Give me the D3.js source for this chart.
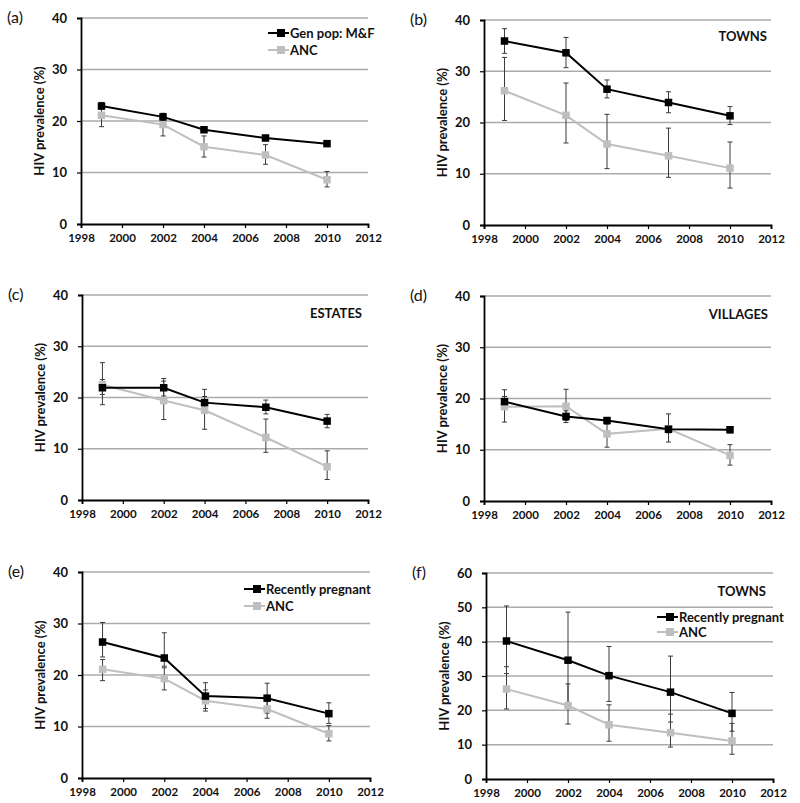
<!DOCTYPE html>
<html><head><meta charset="utf-8">
<script src="https://cdn.jsdelivr.net/npm/d3@7"></script>
<style>
body{margin:0;background:#fff;}
svg{display:block;}
text{font-family:Lato,"Open Sans",sans-serif;font-weight:bold;fill:#111;}
</style></head>
<body><svg id="chart" width="800" height="803"></svg>
<script>
// ---------- DATA ----------
const years = [1999, 2002, 2004, 2007, 2010];
const xTicks = [1998, 2000, 2002, 2004, 2006, 2008, 2010, 2012];
const yTicks40 = [0, 10, 20, 30, 40];
const yTicks60 = [0, 10, 20, 30, 40, 50, 60];

// (a) whole population
const genPop = [22.9, 20.8, 18.3, 16.7, 15.6];
const genPopLo = [22.3, 20.1, 17.9, 16.2, 15.2];
const genPopHi = [23.6, 21.5, 18.8, 17.2, 16.0];
const ancAll = [21.1, 19.3, 15.0, 13.4, 8.6];
const ancAllLo = [18.9, 17.1, 13.0, 11.6, 7.2];
const ancAllHi = [23.0, 21.4, 17.1, 15.4, 10.2];

// (b) towns
const townsPop = [35.9, 33.6, 26.5, 23.9, 21.3];
const townsPopLo = [33.5, 30.7, 24.8, 21.9, 19.6];
const townsPopHi = [38.3, 36.6, 28.3, 26.0, 23.1];
const ancTowns = [26.2, 21.4, 15.8, 13.5, 11.1];
const ancTownsLo = [20.4, 16.0, 11.0, 9.3, 7.2];
const ancTownsHi = [32.7, 27.7, 21.6, 18.9, 16.2];

// (c) estates
const estatesPop = [21.9, 21.9, 19.0, 18.1, 15.4];
const estatesPopLo = [20.6, 20.3, 18.0, 16.8, 14.1];
const estatesPopHi = [23.5, 23.7, 20.2, 19.5, 16.7];
const ancEstates = [22.5, 19.4, 17.5, 12.2, 6.5];
const ancEstatesLo = [18.6, 15.7, 13.8, 9.3, 4.0];
const ancEstatesHi = [26.8, 23.2, 21.6, 15.8, 9.6];

// (d) villages
const villagesPop = [19.4, 16.5, 15.7, 14.0, 13.9];
const villagesPopLo = [18.7, 15.3, 15.0, 13.3, 13.3];
const villagesPopHi = [20.4, 17.6, 16.3, 14.7, 14.4];
const ancVillages = [18.4, 18.5, 13.1, 14.1, 8.9];
const ancVillagesLo = [15.4, 15.7, 10.5, 11.5, 7.0];
const ancVillagesHi = [21.7, 21.8, 15.4, 17.0, 11.0];

// (e) recently pregnant, whole population
const pregAll = [26.4, 23.3, 15.9, 15.5, 12.5];
const pregAllLo = [23.5, 21.7, 13.5, 12.6, 10.6];
const pregAllHi = [30.2, 28.2, 18.5, 18.4, 14.6];

// (f) recently pregnant, towns
const pregTowns = [40.2, 34.6, 30.1, 25.3, 19.1];
const pregTownsLo = [30.7, 21.0, 22.6, 16.6, 13.9];
const pregTownsHi = [50.4, 48.6, 38.6, 35.8, 25.2];

const panelLabels = ["(a)", "(b)", "(c)", "(d)", "(e)", "(f)"];
const areaNames = [null, "TOWNS", "ESTATES", "VILLAGES", null, "TOWNS"];
const legendAll = ["Gen pop: M&F", "ANC"];
const legendPreg = ["Recently pregnant", "ANC"];
const yTitle = "HIV prevalence (%)";

// ---------- LAYOUT ----------
const panels = [
  {x0: 81, x1: 368, yTop: 18, yBot: 224, yMax: 40, ticks: yTicks40,
   black: [genPop, genPopLo, genPopHi], gray: [ancAll, ancAllLo, ancAllHi],
   legend: legendAll, legendPos: [268, 33]},
  {x0: 484, x1: 771, yTop: 20, yBot: 225, yMax: 40, ticks: yTicks40,
   black: [townsPop, townsPopLo, townsPopHi], gray: [ancTowns, ancTownsLo, ancTownsHi],
   namePos: [767, 41]},
  {x0: 82, x1: 368, yTop: 295, yBot: 500, yMax: 40, ticks: yTicks40,
   black: [estatesPop, estatesPopLo, estatesPopHi], gray: [ancEstates, ancEstatesLo, ancEstatesHi],
   namePos: [362, 318]},
  {x0: 484, x1: 771, yTop: 296, yBot: 501, yMax: 40, ticks: yTicks40,
   black: [villagesPop, villagesPopLo, villagesPopHi], gray: [ancVillages, ancVillagesLo, ancVillagesHi],
   namePos: [768, 319]},
  {x0: 82, x1: 370, yTop: 572, yBot: 778, yMax: 40, ticks: yTicks40,
   black: [pregAll, pregAllLo, pregAllHi], gray: [ancAll, ancAllLo, ancAllHi],
   legend: legendPreg, legendPos: [244, 589]},
  {x0: 486, x1: 773, yTop: 573, yBot: 779, yMax: 60, ticks: yTicks60,
   black: [pregTowns, pregTownsLo, pregTownsHi], gray: [ancTowns, ancTownsLo, ancTownsHi],
   namePos: [766, 596], legend: legendPreg, legendPos: [657, 617], legendGap: 15}
];

const svg = d3.select("#chart");
const BLACK = "#000", GRAY = "#bfbfbf", GRID = "#ababab", ERR = "#3a3a3a";

panels.forEach((p, i) => {
  const g = svg.append("g");
  const x = d3.scaleLinear().domain([1998, 2012]).range([p.x0, p.x1]);
  const y = d3.scaleLinear().domain([0, p.yMax]).range([p.yBot, p.yTop]);

  // gridlines
  g.selectAll(".grid").data(p.ticks.filter(t => t > 0)).join("line")
    .attr("x1", p.x0).attr("x2", p.x1)
    .attr("y1", d => y(d)).attr("y2", d => y(d))
    .attr("stroke", GRID).attr("stroke-width", 1.5);

  // y axis
  const ya = g.append("g").attr("transform", `translate(${p.x0},0)`)
    .call(d3.axisLeft(y).tickValues(p.ticks).tickSize(4).tickPadding(10).tickFormat(d3.format("d")));
  ya.select(".domain").attr("stroke", BLACK).attr("stroke-width", 1.8);
  ya.selectAll(".tick line").attr("stroke", BLACK).attr("stroke-width", 1.2);
  ya.selectAll(".tick text").style("font-size", "13px").style("font-family", "Lato, sans-serif").style("font-weight", "bold").attr("fill", "#111");

  // x axis
  const xa = g.append("g").attr("transform", `translate(0,${p.yBot})`)
    .call(d3.axisBottom(x).tickValues(xTicks).tickSize(4).tickPadding(6).tickFormat(d3.format("d")));
  xa.select(".domain").attr("stroke", BLACK).attr("stroke-width", 1.8);
  xa.selectAll(".tick line").attr("stroke", BLACK).attr("stroke-width", 1.2);
  xa.selectAll(".tick text").style("font-size", "11.5px").style("font-family", "Lato, sans-serif").style("font-weight", "bold").attr("fill", "#111");

  // y title
  g.append("text")
    .attr("transform", `translate(${p.x0 - 37},${(p.yTop + p.yBot) / 2}) rotate(-90)`)
    .attr("text-anchor", "middle").style("font-size", "13px").text(yTitle);

  // panel label
  g.append("text").attr("x", p.x0 - 74).attr("y", p.yTop + 5)
    .style("font-size", "16px").style("font-weight", "normal").text(panelLabels[i]);

  if (areaNames[i]) {
    g.append("text").attr("x", p.namePos[0]).attr("y", p.namePos[1])
      .attr("text-anchor", "end").style("font-size", "13px").text(areaNames[i]);
  }

  const series = [
    {vals: p.gray, color: GRAY},
    {vals: p.black, color: BLACK}
  ];
  // error bars
  series.forEach(s => {
    const [v, lo, hi] = s.vals;
    const eb = g.append("g");
    years.forEach((yr, k) => {
      eb.append("line").attr("x1", x(yr)).attr("x2", x(yr))
        .attr("y1", y(lo[k])).attr("y2", y(hi[k])).attr("stroke", ERR).attr("stroke-width", 1);
      [lo[k], hi[k]].forEach(e => eb.append("line")
        .attr("x1", x(yr) - 2.5).attr("x2", x(yr) + 2.5)
        .attr("y1", y(e)).attr("y2", y(e)).attr("stroke", ERR).attr("stroke-width", 1));
    });
  });
  // lines and markers
  series.forEach(s => {
    const v = s.vals[0];
    const pts = years.map((yr, k) => [yr, v[k]]);
    g.append("path").datum(pts)
      .attr("d", d3.line().x(d => x(d[0])).y(d => y(d[1])))
      .attr("fill", "none").attr("stroke", s.color).attr("stroke-width", 2);
    g.selectAll(null).data(pts).join("rect")
      .attr("x", d => x(d[0]) - 3.75).attr("y", d => y(d[1]) - 3.75)
      .attr("width", 7.5).attr("height", 7.5).attr("fill", s.color);
  });

  // legend
  if (p.legend) {
    const gap = p.legendGap || 17;
    [BLACK, GRAY].forEach((c, k) => {
      const ly = p.legendPos[1] + k * gap;
      const lx = p.legendPos[0];
      g.append("line").attr("x1", lx).attr("x2", lx + 21).attr("y1", ly).attr("y2", ly)
        .attr("stroke", c).attr("stroke-width", 2);
      g.append("rect").attr("x", lx + 13 - 4).attr("y", ly - 4).attr("width", 8).attr("height", 8).attr("fill", c);
      g.append("text").attr("x", lx + 22).attr("y", ly + 4.5)
        .style("font-size", "13px").text(p.legend[k]);
    });
  }
});
</script>
</body></html>
